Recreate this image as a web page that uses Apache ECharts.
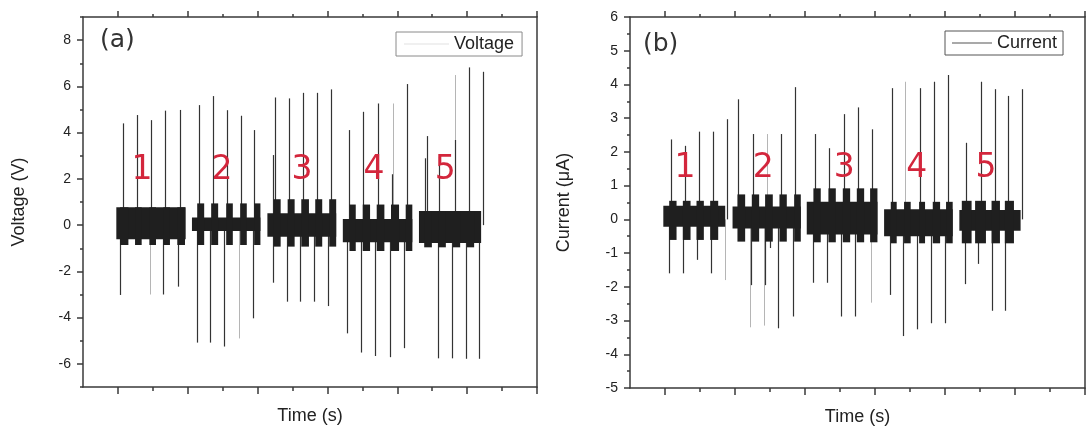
<!DOCTYPE html>
<html>
<head>
<meta charset="utf-8">
<script src="https://cdn.jsdelivr.net/npm/echarts@6/dist/echarts.min.js"></script>
<style>html,body{margin:0;padding:0;background:#fff}#c{width:1090px;height:431px}</style>
</head>
<body>
<div id="c"></div>
<script>
// ---------- axis ticks ----------
const timeMajorTicks = [0, 20, 40, 60, 80, 100, 120];
const timeMinorTicks = [10, 30, 50, 70, 90, 110];
const voltLabelTicks = [-6, -4, -2, 0, 2, 4, 6, 8];
const voltMinorTicks = [-7, -5, -3, -1, 1, 3, 5, 7, 9];
const currLabelTicks = [-5, -4, -3, -2, -1, 0, 1, 2, 3, 4, 5, 6];
const currMinorTicks = [-4.5, -3.5, -2.5, -1.5, -0.5, 0.5, 1.5, 2.5, 3.5, 4.5, 5.5];

const groupNames = ['1', '2', '3', '4', '5'];

// ---------- panel (a) voltage ----------
// dense signal envelope: [tStart, tEnd, top, bottom]
const voltBlocks = [
  [-0.46, 19.4, 0.77, -0.61],
  [0.6, 3.0, 0.77, -0.86], [4.9, 6.8, 0.77, -0.86], [9.0, 10.9, 0.77, -0.86], [13.0, 14.9, 0.77, -0.86], [17.0, 19.2, 0.77, -0.86],
  [21.2, 40.8, 0.33, -0.25],
  [22.7, 24.7, 0.94, -0.86], [26.7, 28.7, 0.94, -0.86], [31.0, 32.9, 0.94, -0.86], [35.0, 36.9, 0.94, -0.86], [39.0, 40.8, 0.94, -0.86],
  [42.8, 62.5, 0.51, -0.50],
  [44.6, 46.6, 1.12, -0.93], [48.6, 50.6, 1.12, -0.93], [52.5, 54.7, 1.12, -0.93], [56.5, 58.5, 1.12, -0.93], [60.5, 62.5, 1.12, -0.93],
  [64.4, 84.3, 0.27, -0.74],
  [66.3, 68.1, 0.89, -1.12], [70.1, 72.2, 0.89, -1.12], [74.1, 76.3, 0.89, -1.12], [78.2, 80.5, 0.89, -1.12], [82.4, 84.3, 0.89, -1.12],
  [86.2, 104.0, 0.61, -0.77],
  [87.7, 89.9, 0.61, -0.96], [91.7, 93.9, 0.61, -0.96], [95.9, 98.0, 0.61, -0.96], [99.9, 102.0, 0.61, -0.96]
];
// spikes: [t, peak value]
const voltSpikes = [
  [1.37, 4.40], [5.38, 4.76], [9.39, 4.54], [13.57, 4.95], [17.78, 4.98],
  [0.69, -3.02], [13.0, -3.0], [17.1, -2.66],
  [23.1, 5.19], [27.3, 5.58], [31.2, 4.97], [35.2, 4.73], [39.1, 4.11],
  [22.5, -5.08], [26.4, -5.08], [30.4, -5.25], [38.8, -4.03],
  [44.5, 3.03], [45.0, 5.52], [49.0, 5.48], [52.9, 5.72], [56.9, 5.72], [60.9, 5.87],
  [44.3, -2.49], [48.3, -3.31], [52.2, -3.31], [56.2, -3.31], [60.2, -3.50],
  [66.3, 4.11], [70.3, 4.90], [74.6, 5.26], [78.5, 2.2], [82.9, 6.10],
  [65.7, -4.68], [69.7, -5.51], [73.7, -5.66], [77.9, -5.71], [82.0, -5.32],
  [88.0, 2.89], [88.4, 3.85], [92.0, 2.96], [96.5, 3.68], [100.5, 6.82], [104.6, 6.63],
  [91.6, -5.76], [95.6, -5.76], [99.6, -5.78], [103.5, -5.78]
];
const voltSpikesFaint = [
  [9.1, -3.0], [34.8, -4.9], [78.7, 5.26], [96.6, 6.49]
];
const voltGroupLabelPos = [[6.9, 2.38], [29.8, 2.38], [52.7, 2.38], [73.3, 2.38], [93.7, 2.38]];

// ---------- panel (b) current ----------
const currBlocks = [
  [-0.48, 17.2, 0.40, -0.22],
  [1.2, 3.3, 0.55, -0.61], [5.1, 7.3, 0.55, -0.61], [9.0, 11.1, 0.55, -0.61], [12.9, 15.2, 0.55, -0.61],
  [19.3, 38.8, 0.38, -0.27],
  [20.7, 22.9, 0.74, -0.66], [24.8, 26.9, 0.74, -0.66], [28.6, 30.8, 0.74, -0.66], [32.7, 34.8, 0.74, -0.66], [36.9, 38.8, 0.74, -0.66],
  [40.5, 60.7, 0.52, -0.45],
  [42.4, 44.5, 0.92, -0.68], [46.7, 48.8, 0.92, -0.68], [50.8, 52.9, 0.92, -0.68], [54.8, 56.9, 0.92, -0.68], [58.6, 60.7, 0.92, -0.68],
  [62.6, 82.2, 0.30, -0.50],
  [64.5, 66.2, 0.52, -0.71], [68.3, 70.2, 0.52, -0.71], [72.6, 74.3, 0.52, -0.71], [76.5, 78.6, 0.52, -0.71], [80.3, 82.2, 0.52, -0.71],
  [84.1, 101.6, 0.28, -0.34],
  [84.8, 87.6, 0.55, -0.71], [88.6, 91.7, 0.55, -0.71], [93.3, 95.7, 0.55, -0.71], [97.1, 99.7, 0.55, -0.71]
];
const currSpikes = [
  [1.7, 2.37], [5.7, 2.18], [9.7, 2.6], [13.6, 2.6], [17.6, 2.97],
  [1.1, -1.6], [5.1, -1.6], [9.1, -1.2], [13.1, -1.6],
  [20.9, 3.56], [25.0, 2.53], [33.1, 2.53], [37.1, 3.92],
  [24.5, -1.95], [28.6, -1.95], [30.0, -0.85], [32.4, -3.23], [36.5, -2.88],
  [42.9, 2.53], [46.9, 2.11], [51.0, 3.12], [55.1, 3.32], [59.1, 2.67],
  [42.2, -1.88], [46.2, -1.88], [50.3, -2.88], [54.3, -2.88],
  [64.8, 3.89], [72.9, 3.89], [76.9, 4.08], [80.9, 4.28],
  [64.3, -2.24], [68.1, -3.46], [72.1, -3.26], [76.1, -3.08], [80.1, -3.08],
  [86.0, 2.27], [90.2, 4.08], [94.2, 3.86], [98.0, 3.66], [102.1, 3.86],
  [85.7, -1.92], [89.5, -1.32], [93.3, -2.71], [97.1, -2.71]
];
const currSpikesFaint = [
  [17.1, -1.8], [29.0, 2.53], [24.3, -3.2], [28.4, -3.15], [58.8, -2.47], [68.7, 4.08]
];
const currGroupLabelPos = [[5.7, 1.51], [28.1, 1.51], [51.2, 1.51], [71.9, 1.51], [91.7, 1.51]];

// ---------- rendering ----------
const AX = '#3a3a3a';
const FONT = 'Liberation Sans, Arial, sans-serif';

function rectItem(params, api) {
  const p0 = api.coord([api.value(0), api.value(2)]);
  const p1 = api.coord([api.value(1), api.value(3)]);
  return { type: 'rect', shape: { x: p0[0], y: p0[1], width: p1[0] - p0[0], height: p1[1] - p0[1] },
           style: { fill: '#1f1f1f' } };
}
function spikeMaker(color, w) {
  return function (params, api) {
    const p0 = api.coord([api.value(0), 0]);
    const p1 = api.coord([api.value(0), api.value(1)]);
    const x = Math.round(p0[0]) + 0.5;
    return { type: 'line', shape: { x1: x, y1: p0[1], x2: x, y2: p1[1] },
             style: { stroke: color, lineWidth: w } };
  };
}
function labelItem(params, api) {
  const p = api.coord([api.value(0), api.value(1)]);
  return { type: 'text', x: p[0], y: p[1],
           style: { text: groupNames[params.dataIndex], fill: '#d3263c', font: '33px DejaVu Sans, Verdana, sans-serif',
                    align: 'center', verticalAlign: 'middle' } };
}

function lineStyleAx() { return { show: true, onZero: false, lineStyle: { color: AX, width: 1.5 } }; }
const noLine = { show: false, onZero: false };

function xAxes(g) {
  const base = { gridIndex: g, type: 'value', min: -10, max: 120, axisLabel: { show: false }, splitLine: { show: false } };
  return [
    Object.assign({}, base, { position: 'bottom', axisLine: lineStyleAx(),
      axisTick: { show: true, customValues: timeMajorTicks, length: 7, lineStyle: { color: AX, width: 1.5 } },
      name: 'Time (s)', nameLocation: 'middle', nameGap: 20,
      nameTextStyle: { fontFamily: FONT, fontSize: 18, color: '#222' } }),
    Object.assign({}, base, { position: 'bottom', axisLine: noLine,
      axisTick: { show: true, customValues: timeMinorTicks, length: 4, lineStyle: { color: AX, width: 1.5 } } }),
    Object.assign({}, base, { position: 'top', axisLine: lineStyleAx(),
      axisTick: { show: true, customValues: timeMajorTicks, length: 6, lineStyle: { color: AX, width: 1.5 } } }),
    Object.assign({}, base, { position: 'top', axisLine: noLine,
      axisTick: { show: true, customValues: timeMinorTicks, length: 3, lineStyle: { color: AX, width: 1.5 } } })
  ];
}
function yAxes(g, min, max, labels, minors, name, gap) {
  const base = { gridIndex: g, type: 'value', min: min, max: max, splitLine: { show: false } };
  return [
    Object.assign({}, base, { position: 'left', axisLine: lineStyleAx(),
      axisTick: { show: true, customValues: labels, length: 6, lineStyle: { color: AX, width: 1.5 } },
      axisLabel: { show: true, customValues: labels, margin: 12, fontFamily: FONT, fontSize: 14, color: '#222' },
      name: name, nameLocation: 'middle', nameGap: gap,
      nameTextStyle: { fontFamily: FONT, fontSize: 18, color: '#222' } }),
    Object.assign({}, base, { position: 'left', axisLine: noLine, axisLabel: { show: false },
      axisTick: { show: true, customValues: minors, length: 3, lineStyle: { color: AX, width: 1.5 } } }),
    Object.assign({}, base, { position: 'right', axisLabel: { show: false }, axisTick: { show: false },
      axisLine: lineStyleAx() })
  ];
}

function panelSeries(g, blocks, spikes, faint, labels, name) {
  const xi = g * 4, yi = g * 3;
  return [
    { type: 'custom', name: 'blocks' + g, xAxisIndex: xi, yAxisIndex: yi, renderItem: rectItem, data: blocks,
      encode: { x: [0, 1], y: [2, 3] }, silent: true, z: 2 },
    { type: 'custom', name: name, xAxisIndex: xi, yAxisIndex: yi, renderItem: spikeMaker('#333', 1.2), data: spikes,
      encode: { x: 0, y: 1 }, itemStyle: { color: '#444' }, silent: true, z: 1 },
    { type: 'custom', name: 'faint' + g, xAxisIndex: xi, yAxisIndex: yi, renderItem: spikeMaker('#b5b5b5', 1), data: faint,
      encode: { x: 0, y: 1 }, silent: true, z: 0 },
    { type: 'custom', name: 'labels' + g, xAxisIndex: xi, yAxisIndex: yi, renderItem: labelItem, data: labels,
      encode: { x: 0, y: 1 }, silent: true, z: 5 }
  ];
}

const chart = echarts.init(document.getElementById('c'), null, { renderer: 'canvas' });
chart.setOption({
  backgroundColor: '#fff',
  animation: false,
  grid: [
    { left: 83, top: 17, width: 454, height: 370 },
    { left: 630, top: 17, width: 455, height: 371 }
  ],
  xAxis: xAxes(0).concat(xAxes(1)),
  yAxis: yAxes(0, -7, 9, voltLabelTicks, voltMinorTicks, 'Voltage (V)', 55)
    .concat(yAxes(1, -5, 6, currLabelTicks, currMinorTicks, 'Current (\u03bcA)', 57)),
  legend: [
    { left: 396, top: 32, orient: 'horizontal', icon: 'rect', itemWidth: 45, itemHeight: 1, itemGap: 5,
      padding: [3, 8, 3, 8], borderColor: '#8a8a8a', borderWidth: 1, borderRadius: 0, selectedMode: false,
      data: [{ name: 'Voltage', itemStyle: { color: '#e2e2e2' } }],
      textStyle: { fontFamily: FONT, fontSize: 18, color: '#222' } },
    { left: 945, top: 31, orient: 'horizontal', icon: 'rect', itemWidth: 40, itemHeight: 1, itemGap: 7,
      padding: [3, 6, 3, 7], borderColor: '#555', borderWidth: 1, borderRadius: 0, selectedMode: false,
      data: [{ name: 'Current', itemStyle: { color: '#555' } }],
      textStyle: { fontFamily: FONT, fontSize: 18, color: '#222' } }
  ],
  graphic: [
    { type: 'text', left: 100, top: 28, style: { text: '(a)', font: '25px DejaVu Sans, Verdana, sans-serif', fill: '#333' } },
    { type: 'text', left: 643, top: 32, style: { text: '(b)', font: '25px DejaVu Sans, Verdana, sans-serif', fill: '#333' } }
  ],
  series: panelSeries(0, voltBlocks, voltSpikes, voltSpikesFaint, voltGroupLabelPos, 'Voltage')
    .concat(panelSeries(1, currBlocks, currSpikes, currSpikesFaint, currGroupLabelPos, 'Current'))
});
</script>
</body>
</html>
